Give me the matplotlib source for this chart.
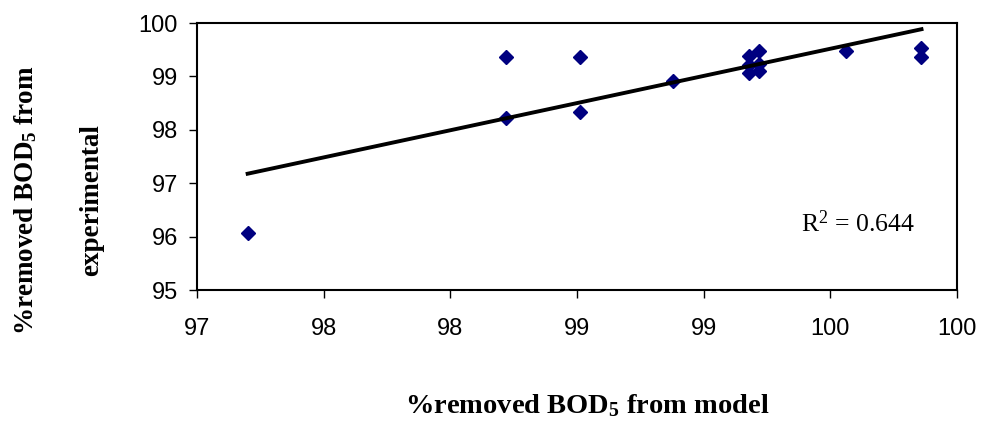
import numpy as np
import matplotlib
matplotlib.use("Agg")
import matplotlib.pyplot as plt

# Werte
bod_model = [97.20, 98.22, 98.22, 98.51, 98.51, 98.88, 99.18, 99.18, 99.18,
             99.22, 99.22, 99.22, 99.56, 99.86, 99.86]
bod_exp = [96.07, 99.37, 98.22, 99.37, 98.33, 98.92, 99.38, 99.21, 99.06,
           99.48, 99.24, 99.10, 99.48, 99.54, 99.37]
x_ticks = [97.0, 97.5, 98.0, 98.5, 99.0, 99.5, 100.0]
x_ticklabels = ["97", "98", "98", "99", "99", "100", "100"]
y_ticks = [95, 96, 97, 98, 99, 100]
r2_text = "R$^2$ = 0.644"

plt.rcParams['mathtext.fontset'] = 'custom'
plt.rcParams['mathtext.rm'] = 'Liberation Serif'
plt.rcParams['mathtext.it'] = 'Liberation Serif'
plt.rcParams['mathtext.bf'] = 'Liberation Serif:bold'

fig = plt.figure(figsize=(9.81, 4.23), dpi=100)
ax = fig.add_axes([0.2008, 0.3144, 0.7747, 0.6312])

ax.plot(bod_model, bod_exp, linestyle='none', marker='D', markersize=7,
        color='#000080')

# lineare Trendlinie
k, m = np.polyfit(bod_model, bod_exp, 1)
xs = np.array([min(bod_model), max(bod_model)])
ax.plot(xs, k * xs + m, color='black', linewidth=2.8)

ax.set_xlim(97, 100)
ax.set_ylim(95, 100)
ax.set_xticks(x_ticks)
ax.set_xticklabels(x_ticklabels)
ax.set_yticks(y_ticks)
for lab in ax.get_xticklabels() + ax.get_yticklabels():
    lab.set_fontfamily('Liberation Sans')
    lab.set_fontsize(17)
ax.tick_params(direction='out', length=5.8, width=1, color='black')
ax.tick_params(axis='x', pad=14)
ax.tick_params(axis='y', pad=8)
for s in ax.spines.values():
    s.set_linewidth(1.5)
    s.set_color('black')

ax.text(0.870, 0.217, r2_text, transform=ax.transAxes, fontsize=18.5,
        family='Liberation Serif', ha='center', va='baseline')

fig.text(0.599, 0.042, r"%removed BOD$_\mathbf{5}$ from model",
         family='Liberation Serif', weight='bold', fontsize=20.5,
         ha='center', va='center')
fig.text(0.059, 0.527, "%removed BOD$_\\mathbf{5}$ from\nexperimental",
         family='Liberation Serif', weight='bold', fontsize=19.5,
         ha='center', va='center', rotation=90, multialignment='center',
         linespacing=3.1)

fig.savefig("out.png", dpi=100)
